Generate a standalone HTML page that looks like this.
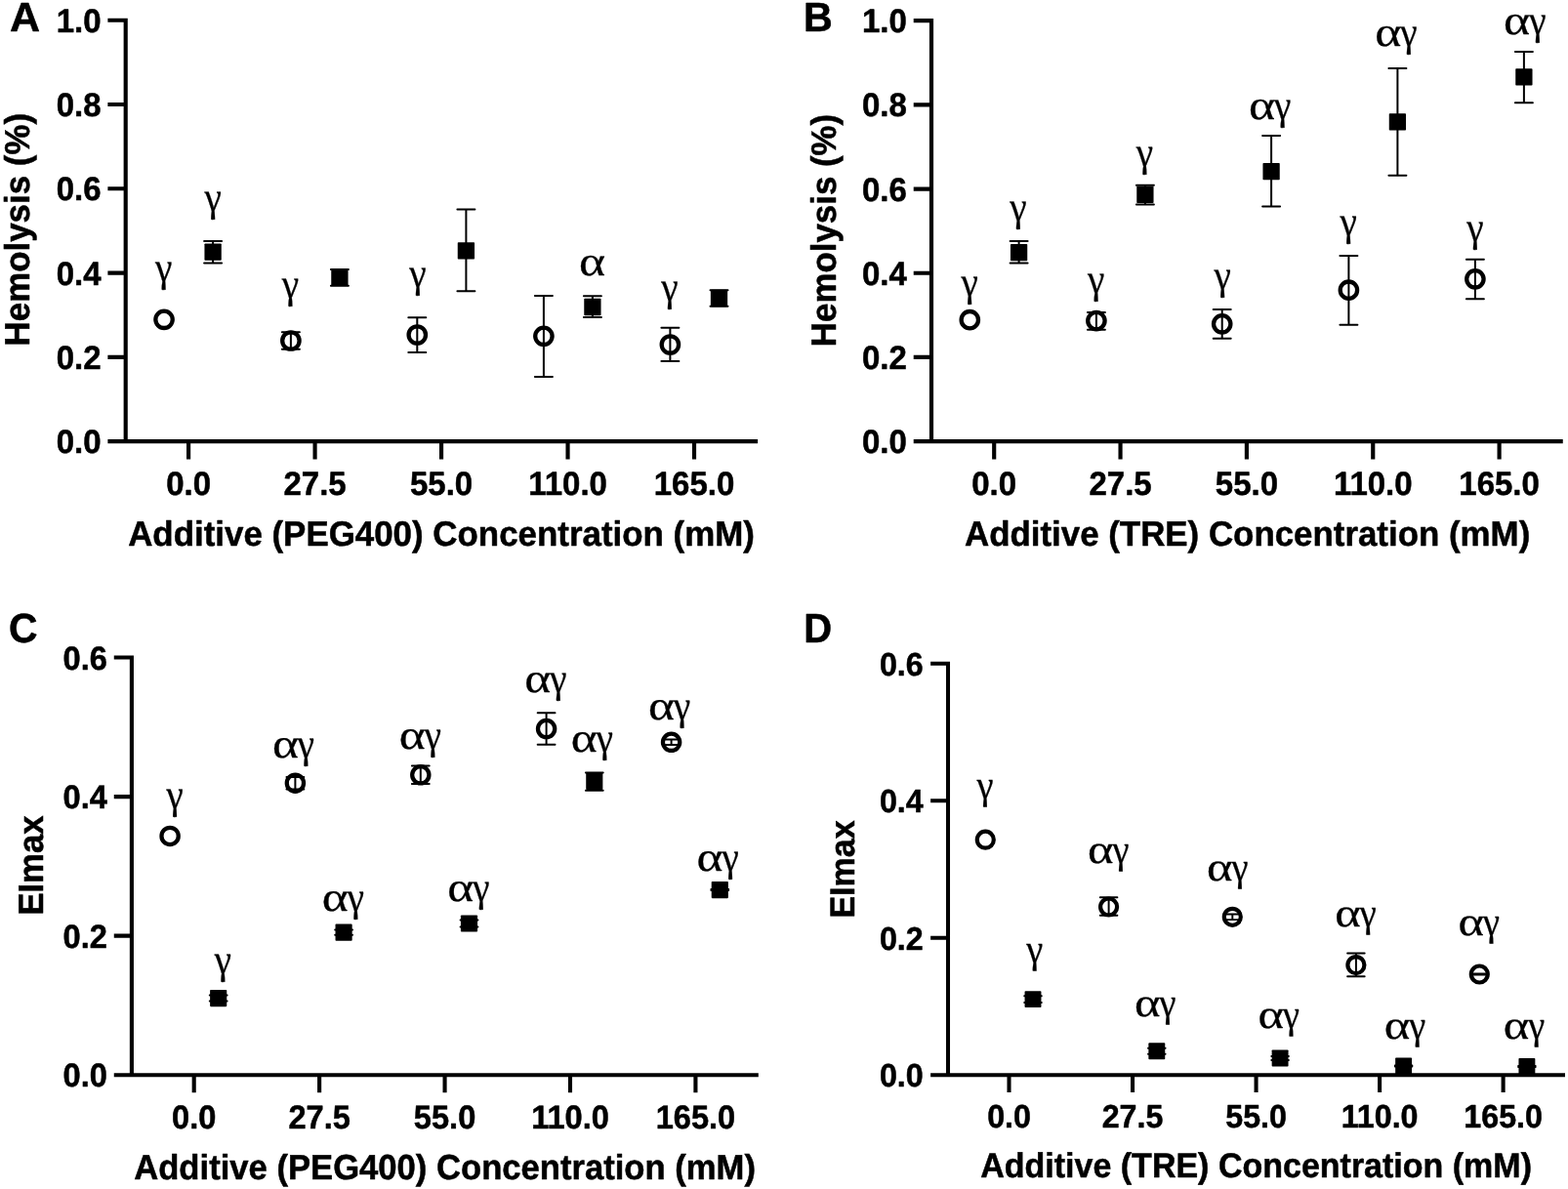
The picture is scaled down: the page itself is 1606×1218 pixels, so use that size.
<!DOCTYPE html>
<html lang="en"><head><meta charset="utf-8"><title>Hemolysis and EImax versus additive concentration</title>
<style>
html,body{margin:0;padding:0;background:#fff;}
body{width:1606px;height:1218px;overflow:hidden;}
svg{display:block;}
.ax{stroke:#000;fill:none;stroke-linecap:butt;}
.eb{stroke:#000;fill:none;stroke-linecap:round;}
.oc{stroke:#000;fill:none;}
.fs{fill:#000;stroke:none;}
text{fill:#000;text-rendering:geometricPrecision;}
.b{font-family:"Liberation Sans",sans-serif;font-weight:700;stroke:#000;stroke-width:0.5px;stroke-linejoin:round;}
.g{font-family:"Liberation Serif",serif;font-weight:400;stroke:#000;stroke-width:0.3px;stroke-linejoin:round;}
</style></head><body>
<svg width="1606" height="1218" viewBox="0 0 1606 1218">
<rect x="0" y="0" width="1606" height="1218" fill="#fff"/>
<g id="panel-A">
<text class="b" transform="translate(9.9 32.4) scale(1 0.98)" font-size="43">A</text>
<path class="ax" stroke-width="4.15" d="M128.7 18.68V454.18M110.4 452.1H776.1M110.4 365.83H128.7M110.4 279.56H128.7M110.4 193.29H128.7M110.4 107.02H128.7M110.4 20.75H128.7M193.1 452.1V470.4M322.58 452.1V470.4M452.06 452.1V470.4M581.54 452.1V470.4M711.02 452.1V470.4"/>
<text class="b" transform="translate(103.5 464.1) scale(1 1.03)" font-size="33" text-anchor="end">0.0</text>
<text class="b" transform="translate(103.5 377.83) scale(1 1.03)" font-size="33" text-anchor="end">0.2</text>
<text class="b" transform="translate(103.5 291.56) scale(1 1.03)" font-size="33" text-anchor="end">0.4</text>
<text class="b" transform="translate(103.5 205.29) scale(1 1.03)" font-size="33" text-anchor="end">0.6</text>
<text class="b" transform="translate(103.5 119.02) scale(1 1.03)" font-size="33" text-anchor="end">0.8</text>
<text class="b" transform="translate(103.5 32.75) scale(1 1.03)" font-size="33" text-anchor="end">1.0</text>
<text class="b" transform="translate(193.1 507.2) scale(1 1.03)" font-size="33" text-anchor="middle">0.0</text>
<text class="b" transform="translate(322.58 507.2) scale(1 1.03)" font-size="33" text-anchor="middle">27.5</text>
<text class="b" transform="translate(452.06 507.2) scale(1 1.03)" font-size="33" text-anchor="middle">55.0</text>
<text class="b" transform="translate(581.54 507.2) scale(1 1.03)" font-size="33" text-anchor="middle">110.0</text>
<text class="b" transform="translate(711.02 507.2) scale(1 1.03)" font-size="33" text-anchor="middle">165.0</text>
<text class="b" transform="translate(452 558.5) scale(1 1.03)" font-size="34.9" text-anchor="middle">Additive (PEG400) Concentration (mM)</text>
<text class="b" transform="translate(29.8 235.2) rotate(-90) scale(1 1.03)" font-size="34.9" text-anchor="middle">Hemolysis (%)</text>
<circle class="oc" cx="168.05" cy="327.3" r="8.7" stroke-width="4.3"/>
<circle class="oc" cx="297.9" cy="349" r="8.7" stroke-width="4.3"/>
<path class="eb" stroke-width="2" d="M288.9 340.2H306.9M288.9 357.7H306.9M297.9 340.2V357.7"/>
<circle class="oc" cx="427.3" cy="343" r="8.7" stroke-width="4.3"/>
<path class="eb" stroke-width="2" d="M418.3 325.2H436.3M418.3 360.9H436.3M427.3 325.2V360.9"/>
<circle class="oc" cx="556.9" cy="344.3" r="8.7" stroke-width="4.3"/>
<path class="eb" stroke-width="2" d="M547.9 303H565.9M547.9 386H565.9M556.9 303V386"/>
<circle class="oc" cx="686.4" cy="353" r="8.7" stroke-width="4.3"/>
<path class="eb" stroke-width="2" d="M677.4 335.7H695.4M677.4 370.1H695.4M686.4 335.7V370.1"/>
<path class="eb" stroke-width="2" d="M209.1 246.9H227.1M209.1 269.5H227.1M218.1 246.9V269.5"/>
<rect class="fs" x="209.45" y="249.45" width="17.3" height="17.3" rx="0.8"/>
<path class="eb" stroke-width="2" d="M338.9 275.9H356.9M338.9 292.7H356.9M347.9 275.9V292.7"/>
<rect class="fs" x="339.25" y="275.65" width="17.3" height="17.3" rx="0.8"/>
<path class="eb" stroke-width="2" d="M468.4 214.6H486.4M468.4 298.2H486.4M477.4 214.6V298.2"/>
<rect class="fs" x="468.75" y="248.15" width="17.3" height="17.3" rx="0.8"/>
<path class="eb" stroke-width="2" d="M597.9 303.2H615.9M597.9 325.1H615.9M606.9 303.2V325.1"/>
<rect class="fs" x="598.25" y="305.85" width="17.3" height="17.3" rx="0.8"/>
<path class="eb" stroke-width="2" d="M727.5 297.3H745.5M727.5 313.7H745.5M736.5 297.3V313.7"/>
<rect class="fs" x="727.85" y="296.85" width="17.3" height="17.3" rx="0.8"/>
<text class="g" x="159.05" y="287.5" font-size="42.6" textLength="17.4" lengthAdjust="spacingAndGlyphs">γ</text>
<text class="g" x="209.45" y="216.42" font-size="42.6" textLength="17.4" lengthAdjust="spacingAndGlyphs">γ</text>
<text class="g" x="288.75" y="305.23" font-size="42.6" textLength="17.4" lengthAdjust="spacingAndGlyphs">γ</text>
<text class="g" x="419.35" y="293.76" font-size="42.6" textLength="17.4" lengthAdjust="spacingAndGlyphs">γ</text>
<text class="g" x="592.9" y="281.94" font-size="42.6" textLength="27.1" lengthAdjust="spacingAndGlyphs">α</text>
<text class="g" x="677.25" y="307.91" font-size="42.6" textLength="17.4" lengthAdjust="spacingAndGlyphs">γ</text>
</g>
<g id="panel-B">
<text class="b" transform="translate(823.1 32.4) scale(1 1.025)" font-size="41.2">B</text>
<path class="ax" stroke-width="4.15" d="M954 19.11V454.17M935.72 452.1H1600.75M935.72 365.92H954M935.72 279.73H954M935.72 193.55H954M935.72 107.37H954M935.72 21.18H954M1018.2 452.1V470.38M1147.55 452.1V470.38M1276.9 452.1V470.38M1406.25 452.1V470.38M1535.6 452.1V470.38"/>
<text class="b" transform="translate(928.83 464.1) scale(1 1.03)" font-size="33" text-anchor="end">0.0</text>
<text class="b" transform="translate(928.83 377.92) scale(1 1.03)" font-size="33" text-anchor="end">0.2</text>
<text class="b" transform="translate(928.83 291.73) scale(1 1.03)" font-size="33" text-anchor="end">0.4</text>
<text class="b" transform="translate(928.83 205.55) scale(1 1.03)" font-size="33" text-anchor="end">0.6</text>
<text class="b" transform="translate(928.83 119.37) scale(1 1.03)" font-size="33" text-anchor="end">0.8</text>
<text class="b" transform="translate(928.83 33.18) scale(1 1.03)" font-size="33" text-anchor="end">1.0</text>
<text class="b" transform="translate(1018.2 507.14) scale(1 1.03)" font-size="33" text-anchor="middle">0.0</text>
<text class="b" transform="translate(1147.55 507.14) scale(1 1.03)" font-size="33" text-anchor="middle">27.5</text>
<text class="b" transform="translate(1276.9 507.14) scale(1 1.03)" font-size="33" text-anchor="middle">55.0</text>
<text class="b" transform="translate(1406.25 507.14) scale(1 1.03)" font-size="33" text-anchor="middle">110.0</text>
<text class="b" transform="translate(1535.6 507.14) scale(1 1.03)" font-size="33" text-anchor="middle">165.0</text>
<text class="b" transform="translate(1277.6 559.4) scale(1 1.03)" font-size="34.88" text-anchor="middle">Additive (TRE) Concentration (mM)</text>
<text class="b" transform="translate(855.6 236) rotate(-90) scale(1 1.03)" font-size="34.88" text-anchor="middle">Hemolysis (%)</text>
<circle class="oc" cx="993.3" cy="327.7" r="8.69" stroke-width="4.3"/>
<circle class="oc" cx="1122.9" cy="328.6" r="8.69" stroke-width="4.3"/>
<path class="eb" stroke-width="2" d="M1113.91 320.1H1131.89M1113.91 337.7H1131.89M1122.9 320.1V337.7"/>
<circle class="oc" cx="1251.7" cy="331.8" r="8.69" stroke-width="4.3"/>
<path class="eb" stroke-width="2" d="M1242.71 317H1260.69M1242.71 346.7H1260.69M1251.7 317V346.7"/>
<circle class="oc" cx="1381.4" cy="297.2" r="8.69" stroke-width="4.3"/>
<path class="eb" stroke-width="2" d="M1372.41 262.1H1390.39M1372.41 332.7H1390.39M1381.4 262.1V332.7"/>
<circle class="oc" cx="1510.9" cy="285.8" r="8.69" stroke-width="4.3"/>
<path class="eb" stroke-width="2" d="M1501.91 265.8H1519.89M1501.91 306.3H1519.89M1510.9 265.8V306.3"/>
<path class="eb" stroke-width="2" d="M1034.61 247.1H1052.59M1034.61 269.5H1052.59M1043.6 247.1V269.5"/>
<rect class="fs" x="1034.96" y="250.06" width="17.28" height="17.28" rx="0.8"/>
<path class="eb" stroke-width="2" d="M1163.91 189.7H1181.89M1163.91 209.6H1181.89M1172.9 189.7V209.6"/>
<rect class="fs" x="1164.26" y="190.66" width="17.28" height="17.28" rx="0.8"/>
<path class="eb" stroke-width="2" d="M1293.11 139H1311.09M1293.11 211.4H1311.09M1302.1 139V211.4"/>
<rect class="fs" x="1293.46" y="167.06" width="17.28" height="17.28" rx="0.8"/>
<path class="eb" stroke-width="2" d="M1422.41 69.9H1440.39M1422.41 179.7H1440.39M1431.4 69.9V179.7"/>
<rect class="fs" x="1422.76" y="116.16" width="17.28" height="17.28" rx="0.8"/>
<path class="eb" stroke-width="2" d="M1551.91 52.9H1569.89M1551.91 105.3H1569.89M1560.9 52.9V105.3"/>
<rect class="fs" x="1552.26" y="70.26" width="17.28" height="17.28" rx="0.8"/>
<text class="g" x="984.56" y="303.3" font-size="42.56" textLength="17.38" lengthAdjust="spacingAndGlyphs">γ</text>
<text class="g" x="1034.36" y="226.1" font-size="42.56" textLength="17.38" lengthAdjust="spacingAndGlyphs">γ</text>
<text class="g" x="1114.06" y="299.79" font-size="42.56" textLength="17.38" lengthAdjust="spacingAndGlyphs">γ</text>
<text class="g" x="1163.66" y="169.99" font-size="42.56" textLength="17.38" lengthAdjust="spacingAndGlyphs">γ</text>
<text class="g" x="1243.46" y="296.4" font-size="42.56" textLength="17.38" lengthAdjust="spacingAndGlyphs">γ</text>
<text class="g" x="1278.92" y="122.1" font-size="42.56"><tspan textLength="27.07" lengthAdjust="spacingAndGlyphs">α</tspan><tspan dx="-1" textLength="17.38" lengthAdjust="spacingAndGlyphs">γ</tspan></text>
<text class="g" x="1372.56" y="241.05" font-size="42.56" textLength="17.38" lengthAdjust="spacingAndGlyphs">γ</text>
<text class="g" x="1408.22" y="47.41" font-size="42.56"><tspan textLength="27.07" lengthAdjust="spacingAndGlyphs">α</tspan><tspan dx="-1" textLength="17.38" lengthAdjust="spacingAndGlyphs">γ</tspan></text>
<text class="g" x="1502.16" y="247.2" font-size="42.56" textLength="17.38" lengthAdjust="spacingAndGlyphs">γ</text>
<text class="g" x="1540.12" y="35.2" font-size="42.56"><tspan textLength="27.07" lengthAdjust="spacingAndGlyphs">α</tspan><tspan dx="-1" textLength="17.38" lengthAdjust="spacingAndGlyphs">γ</tspan></text>
</g>
<g id="panel-C">
<text class="b" transform="translate(9 658.2) scale(1 1.035)" font-size="40.8">C</text>
<path class="ax" stroke-width="4.11" d="M134.9 671.46V1103.26M116.76 1101.2H776.8M116.76 958.64H134.9M116.76 816.08H134.9M116.76 673.52H134.9M198.7 1101.2V1119.34M327.13 1101.2V1119.34M455.56 1101.2V1119.34M583.99 1101.2V1119.34M712.42 1101.2V1119.34"/>
<text class="b" transform="translate(109.91 1113.2) scale(1 1.04)" font-size="32.6" text-anchor="end">0.0</text>
<text class="b" transform="translate(109.91 970.64) scale(1 1.04)" font-size="32.6" text-anchor="end">0.2</text>
<text class="b" transform="translate(109.91 828.08) scale(1 1.04)" font-size="32.6" text-anchor="end">0.4</text>
<text class="b" transform="translate(109.91 685.52) scale(1 1.04)" font-size="32.6" text-anchor="end">0.6</text>
<text class="b" transform="translate(198.7 1155.83) scale(1 1.04)" font-size="32.6" text-anchor="middle">0.0</text>
<text class="b" transform="translate(327.13 1155.83) scale(1 1.04)" font-size="32.6" text-anchor="middle">27.5</text>
<text class="b" transform="translate(455.56 1155.83) scale(1 1.04)" font-size="32.6" text-anchor="middle">55.0</text>
<text class="b" transform="translate(583.99 1155.83) scale(1 1.04)" font-size="32.6" text-anchor="middle">110.0</text>
<text class="b" transform="translate(712.42 1155.83) scale(1 1.04)" font-size="32.6" text-anchor="middle">165.0</text>
<text class="b" transform="translate(455.6 1207.6) scale(1 1.04)" font-size="34.63" text-anchor="middle">Additive (PEG400) Concentration (mM)</text>
<text class="b" transform="translate(43.8 886.6) rotate(-90) scale(1 1.04)" font-size="34.63" text-anchor="middle">EImax</text>
<circle class="oc" cx="174.1" cy="856.4" r="8.63" stroke-width="4.26"/>
<circle class="oc" cx="302.4" cy="802.2" r="8.63" stroke-width="4.26"/>
<path class="eb" stroke-width="1.98" d="M293.48 796H311.32M293.48 808.4H311.32M302.4 796V808.4"/>
<circle class="oc" cx="430.8" cy="793.8" r="8.63" stroke-width="4.26"/>
<path class="eb" stroke-width="1.98" d="M421.88 784.6H439.72M421.88 803H439.72M430.8 784.6V803"/>
<circle class="oc" cx="559.6" cy="746.6" r="8.63" stroke-width="4.26"/>
<path class="eb" stroke-width="1.98" d="M550.68 730.3H568.52M550.68 762.7H568.52M559.6 730.3V762.7"/>
<circle class="oc" cx="687.6" cy="760.3" r="8.63" stroke-width="4.26"/>
<path class="eb" stroke-width="1.98" d="M678.68 757.6H696.52M678.68 762.9H696.52M687.6 757.6V762.9"/>
<path class="eb" stroke-width="1.98" d="M214.78 1019.6H232.62M214.78 1025.6H232.62M223.7 1019.6V1025.6"/>
<rect class="fs" x="215.12" y="1014.02" width="17.15" height="17.15" rx="0.8"/>
<path class="eb" stroke-width="1.98" d="M343.18 952.6H361.02M343.18 957.8H361.02M352.1 952.6V957.8"/>
<rect class="fs" x="343.52" y="946.62" width="17.15" height="17.15" rx="0.8"/>
<path class="eb" stroke-width="1.98" d="M471.58 942.5H489.42M471.58 949.5H489.42M480.5 942.5V949.5"/>
<rect class="fs" x="471.92" y="937.42" width="17.15" height="17.15" rx="0.8"/>
<path class="eb" stroke-width="1.98" d="M599.88 791.5H617.72M599.88 809.7H617.72M608.8 791.5V809.7"/>
<rect class="fs" x="600.22" y="791.82" width="17.15" height="17.15" rx="0.8"/>
<path class="eb" stroke-width="1.98" d="M728.38 911.1H746.22M728.38 912.1H746.22M737.3 911.1V912.1"/>
<rect class="fs" x="728.72" y="903.02" width="17.15" height="17.15" rx="0.8"/>
<text class="g" x="170.42" y="828.2" font-size="42.24" textLength="17.25" lengthAdjust="spacingAndGlyphs">γ</text>
<text class="g" x="219.82" y="997.46" font-size="42.24" textLength="17.25" lengthAdjust="spacingAndGlyphs">γ</text>
<text class="g" x="278.92" y="775.55" font-size="42.24"><tspan textLength="26.87" lengthAdjust="spacingAndGlyphs">α</tspan><tspan dx="-0.99" textLength="17.25" lengthAdjust="spacingAndGlyphs">γ</tspan></text>
<text class="g" x="329.78" y="932.85" font-size="42.24"><tspan textLength="26.87" lengthAdjust="spacingAndGlyphs">α</tspan><tspan dx="-0.99" textLength="17.25" lengthAdjust="spacingAndGlyphs">γ</tspan></text>
<text class="g" x="408.89" y="766.66" font-size="42.24"><tspan textLength="26.87" lengthAdjust="spacingAndGlyphs">α</tspan><tspan dx="-0.99" textLength="17.25" lengthAdjust="spacingAndGlyphs">γ</tspan></text>
<text class="g" x="458.29" y="923.44" font-size="42.24"><tspan textLength="26.87" lengthAdjust="spacingAndGlyphs">α</tspan><tspan dx="-0.99" textLength="17.25" lengthAdjust="spacingAndGlyphs">γ</tspan></text>
<text class="g" x="537.39" y="709.4" font-size="42.24"><tspan textLength="26.87" lengthAdjust="spacingAndGlyphs">α</tspan><tspan dx="-0.99" textLength="17.25" lengthAdjust="spacingAndGlyphs">γ</tspan></text>
<text class="g" x="584.77" y="770.45" font-size="42.24"><tspan textLength="26.87" lengthAdjust="spacingAndGlyphs">α</tspan><tspan dx="-0.99" textLength="17.25" lengthAdjust="spacingAndGlyphs">γ</tspan></text>
<text class="g" x="664.09" y="736.91" font-size="42.24"><tspan textLength="26.87" lengthAdjust="spacingAndGlyphs">α</tspan><tspan dx="-0.99" textLength="17.25" lengthAdjust="spacingAndGlyphs">γ</tspan></text>
<text class="g" x="713.59" y="891.84" font-size="42.24"><tspan textLength="26.87" lengthAdjust="spacingAndGlyphs">α</tspan><tspan dx="-0.99" textLength="17.25" lengthAdjust="spacingAndGlyphs">γ</tspan></text>
</g>
<g id="panel-D">
<text class="b" transform="translate(823.3 657.9) scale(1 1.055)" font-size="40">D</text>
<path class="ax" stroke-width="4.05" d="M971 677.74V1103.23M953.12 1101.2H1603M953.12 960.72H971M953.12 820.25H971M953.12 679.77H971M1033.5 1101.2V1119.08M1160.03 1101.2V1119.08M1286.56 1101.2V1119.08M1413.09 1101.2V1119.08M1539.62 1101.2V1119.08"/>
<text class="b" transform="translate(945.7 1113.2) scale(1 1.035)" font-size="32.2" text-anchor="end">0.0</text>
<text class="b" transform="translate(945.7 972.72) scale(1 1.035)" font-size="32.2" text-anchor="end">0.2</text>
<text class="b" transform="translate(945.7 832.25) scale(1 1.035)" font-size="32.2" text-anchor="end">0.4</text>
<text class="b" transform="translate(945.7 691.77) scale(1 1.035)" font-size="32.2" text-anchor="end">0.6</text>
<text class="b" transform="translate(1033.5 1155.03) scale(1 1.035)" font-size="32.2" text-anchor="middle">0.0</text>
<text class="b" transform="translate(1160.03 1155.03) scale(1 1.035)" font-size="32.2" text-anchor="middle">27.5</text>
<text class="b" transform="translate(1286.56 1155.03) scale(1 1.035)" font-size="32.2" text-anchor="middle">55.0</text>
<text class="b" transform="translate(1413.09 1155.03) scale(1 1.035)" font-size="32.2" text-anchor="middle">110.0</text>
<text class="b" transform="translate(1539.62 1155.03) scale(1 1.035)" font-size="32.2" text-anchor="middle">165.0</text>
<text class="b" transform="translate(1286.6 1205.6) scale(1 1.045)" font-size="34" text-anchor="middle">Additive (TRE) Concentration (mM)</text>
<text class="b" transform="translate(875.3 890.5) rotate(-90) scale(1 1.045)" font-size="34" text-anchor="middle">EImax</text>
<circle class="oc" cx="1009.3" cy="860.2" r="8.5" stroke-width="4.2"/>
<circle class="oc" cx="1135.6" cy="929" r="8.5" stroke-width="4.2"/>
<path class="eb" stroke-width="1.95" d="M1126.81 919.3H1144.39M1126.81 937.7H1144.39M1135.6 919.3V937.7"/>
<circle class="oc" cx="1262.3" cy="939.3" r="8.5" stroke-width="4.2"/>
<path class="eb" stroke-width="1.95" d="M1253.51 936.5H1271.09M1253.51 942.1H1271.09M1262.3 936.5V942.1"/>
<circle class="oc" cx="1388.9" cy="988.6" r="8.5" stroke-width="4.2"/>
<path class="eb" stroke-width="1.95" d="M1380.11 976.5H1397.69M1380.11 1000.2H1397.69M1388.9 976.5V1000.2"/>
<circle class="oc" cx="1515.3" cy="998" r="8.5" stroke-width="4.2"/>
<path class="eb" stroke-width="1.95" d="M1506.51 997.5H1524.09M1506.51 998.5H1524.09M1515.3 997.5V998.5"/>
<path class="eb" stroke-width="1.95" d="M1049.21 1020.3H1066.79M1049.21 1026.9H1066.79M1058 1020.3V1026.9"/>
<rect class="fs" x="1049.55" y="1015.15" width="16.9" height="16.9" rx="0.8"/>
<path class="eb" stroke-width="1.95" d="M1176.01 1073.8H1193.59M1176.01 1079.8H1193.59M1184.8 1073.8V1079.8"/>
<rect class="fs" x="1176.35" y="1068.35" width="16.9" height="16.9" rx="0.8"/>
<path class="eb" stroke-width="1.95" d="M1302.31 1082H1319.89M1302.31 1086H1319.89M1311.1 1082V1086"/>
<rect class="fs" x="1302.65" y="1075.55" width="16.9" height="16.9" rx="0.8"/>
<path class="eb" stroke-width="1.95" d="M1428.81 1091.4H1446.39M1428.81 1092.6H1446.39M1437.6 1091.4V1092.6"/>
<rect class="fs" x="1429.15" y="1083.55" width="16.9" height="16.9" rx="0.8"/>
<path class="eb" stroke-width="1.95" d="M1555.11 1091.9H1572.69M1555.11 1093.1H1572.69M1563.9 1091.9V1093.1"/>
<rect class="fs" x="1555.45" y="1084.05" width="16.9" height="16.9" rx="0.8"/>
<text class="g" x="1000.54" y="818.3" font-size="41.62" textLength="17" lengthAdjust="spacingAndGlyphs">γ</text>
<text class="g" x="1051.34" y="985.79" font-size="41.62" textLength="17" lengthAdjust="spacingAndGlyphs">γ</text>
<text class="g" x="1113.91" y="884.31" font-size="41.62"><tspan textLength="26.48" lengthAdjust="spacingAndGlyphs">α</tspan><tspan dx="-0.98" textLength="17" lengthAdjust="spacingAndGlyphs">γ</tspan></text>
<text class="g" x="1162.07" y="1040.7" font-size="41.62"><tspan textLength="26.48" lengthAdjust="spacingAndGlyphs">α</tspan><tspan dx="-0.98" textLength="17" lengthAdjust="spacingAndGlyphs">γ</tspan></text>
<text class="g" x="1235.91" y="902.07" font-size="41.62"><tspan textLength="26.48" lengthAdjust="spacingAndGlyphs">α</tspan><tspan dx="-0.98" textLength="17" lengthAdjust="spacingAndGlyphs">γ</tspan></text>
<text class="g" x="1288.51" y="1052.9" font-size="41.62"><tspan textLength="26.48" lengthAdjust="spacingAndGlyphs">α</tspan><tspan dx="-0.98" textLength="17" lengthAdjust="spacingAndGlyphs">γ</tspan></text>
<text class="g" x="1367.25" y="948.6" font-size="41.62"><tspan textLength="26.48" lengthAdjust="spacingAndGlyphs">α</tspan><tspan dx="-0.98" textLength="17" lengthAdjust="spacingAndGlyphs">γ</tspan></text>
<text class="g" x="1417.81" y="1064.2" font-size="41.62"><tspan textLength="26.48" lengthAdjust="spacingAndGlyphs">α</tspan><tspan dx="-0.98" textLength="17" lengthAdjust="spacingAndGlyphs">γ</tspan></text>
<text class="g" x="1493.61" y="957.6" font-size="41.62"><tspan textLength="26.48" lengthAdjust="spacingAndGlyphs">α</tspan><tspan dx="-0.98" textLength="17" lengthAdjust="spacingAndGlyphs">γ</tspan></text>
<text class="g" x="1539.71" y="1064.2" font-size="41.62"><tspan textLength="26.48" lengthAdjust="spacingAndGlyphs">α</tspan><tspan dx="-0.98" textLength="17" lengthAdjust="spacingAndGlyphs">γ</tspan></text>
</g>
</svg>
</body></html>
